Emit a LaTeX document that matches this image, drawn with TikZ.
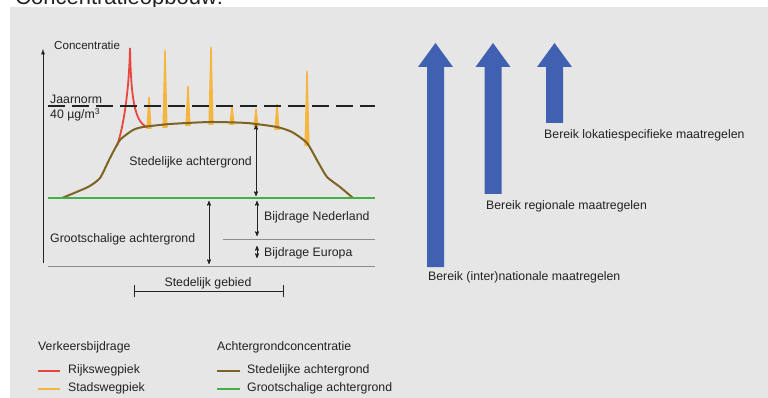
\documentclass[tikz,border=0pt]{standalone}
\usepackage{fontspec}
\setmainfont{Liberation Sans}
\usetikzlibrary{arrows}

\definecolor{panel}{HTML}{E6E6E6}
\definecolor{rijks}{HTML}{E8463C}
\definecolor{stads}{HTML}{F4B63F}
\definecolor{stedbrown}{HTML}{7D6324}
\definecolor{grootgreen}{HTML}{45B04A}
\definecolor{bereikblue}{HTML}{4061B2}
\definecolor{txt}{HTML}{222222}

\begin{document}
\begin{tikzpicture}[x=1pt, y=-1pt, >=latex, font=\fontsize{12.3}{14}\selectfont,
  lbl/.style={text=txt, inner sep=0pt},
  dimarrow/.style={<->, >=stealth', txt, line width=0.7pt},
  thinline/.style={black!45, line width=0.9pt},
  legline/.style={line width=2pt}]

\useasboundingbox (0,0) rectangle (768,398);
\clip (0,0) rectangle (768,398);

\node[lbl, anchor=base west, font=\fontsize{22}{24}\selectfont] (titel) at (15,4.5) {Concentratieopbouw:};
\fill[panel] (10,7) rectangle (768,398);

% axis
\coordinate (axb) at (43,263);
\coordinate (axt) at (43,49);
\draw[txt, line width=0.9pt, -latex] (axb) -- (axt);
\node[lbl, anchor=west, font=\fontsize{11.6}{13}\selectfont] (conc) at (54,45) {Concentratie};

% stadswegpieken
\foreach \sx/\sy/\sb in {149/97/129, 165/50/128, 188/86/126, 211/47/125, 232/105/125, 256/109/127, 277/104/130, 307/71/146}
  \fill[stads] (\sx-2.6,\sb) -- (\sx-0.7,\sy) -- (\sx+0.7,\sy) -- (\sx+2.6,\sb) -- cycle;

% rijkswegpiek
\draw[rijks, line width=1.8pt] (117,146) .. controls (124,125) and (129,90) .. (130,48)
  .. controls (131,95) and (134,122) .. (147,127);

% stedelijke achtergrond
\draw[stedbrown, line width=2pt, line join=round] plot[smooth, tension=0.35] coordinates {(62,198) (88,187) (100,178) (110,158) (120,140) (133,130) (143,127) (170,124) (210,122) (247,123) (277,127) (292,132) (307,143) (318,162) (327,177) (340,187) (353,198)};

% jaarnorm
\coordinate (norml) at (48,106);
\coordinate (normr) at (375,106);
\draw[txt, line width=1.2pt, dash pattern=on 17pt off 7pt] (norml) -- (normr);
\node[lbl, anchor=west] (jaar) at (50,99) {Jaarnorm};
\node[lbl, anchor=west] (norm) at (50,115) {40 µg/m\textsuperscript{3}};

% grootschalige achtergrond
\coordinate (groenl) at (48,198);
\coordinate (groenr) at (375,198);
\draw[grootgreen, line width=2pt] (groenl) -- (groenr);
\coordinate (bodeml) at (48,266);
\coordinate (bodemr) at (375,266);
\draw[thinline] (bodeml) -- (bodemr);
\coordinate (euml) at (223,239);
\coordinate (eumr) at (375,239);
\draw[thinline] (euml) -- (eumr);

\coordinate (sta) at (256,125);
\coordinate (stb) at (256,196);
\draw[dimarrow] (sta) -- (stb);
\node[lbl, anchor=east] (sted) at (252,162) {Stedelijke achtergrond};

\coordinate (gra) at (209,201);
\coordinate (grb) at (209,264);
\draw[dimarrow] (gra) -- (grb);
\node[lbl, anchor=west] (groot) at (50,239) {Grootschalige achtergrond};

\coordinate (nla) at (257,201);
\coordinate (nlb) at (257,236);
\draw[dimarrow] (nla) -- (nlb);
\node[lbl, anchor=west] (nl) at (264,217) {Bijdrage Nederland};

\coordinate (eua) at (257,246);
\coordinate (eub) at (257,258);
\draw[dimarrow] (eua) -- (eub);
\node[lbl, anchor=west] (eu) at (264,253) {Bijdrage Europa};

% stedelijk gebied
\coordinate (gbl) at (134,291);
\coordinate (gbr) at (283,291);
\draw[txt, line width=0.8pt] (gbl) -- (gbr);
\draw[txt, line width=0.8pt] ([yshift=-6]gbl) -- ([yshift=6]gbl);
\draw[txt, line width=0.8pt] ([yshift=-6]gbr) -- ([yshift=6]gbr);
\node[lbl, anchor=south] (gebied) at (208,289) {Stedelijk gebied};

% bereik maatregelen
\foreach \bx/\bb in {435.5/267, 493/194, 554.5/123}
  \fill[bereikblue] (\bx-8.5,\bb) -- (\bx-8.5,67) -- (\bx-17.5,67) -- (\bx,43) -- (\bx+17.5,67) -- (\bx+8.5,67) -- (\bx+8.5,\bb) -- cycle;
\node[lbl, anchor=west] (lokaal) at (544,135) {Bereik lokatiespecifieke maatregelen};
\node[lbl, anchor=west] (regio) at (486,206) {Bereik regionale maatregelen};
\node[lbl, anchor=west] (inter) at (428,277) {Bereik (inter)nationale maatregelen};

% legenda
\node[lbl, anchor=west] (verkeer) at (38,347) {Verkeersbijdrage};
\coordinate (rl) at (38,371);
\coordinate (rr) at (60,371);
\draw[rijks, legline] (rl) -- (rr);
\node[lbl, anchor=west] (rijkstxt) at (68,370) {Rijkswegpiek};
\coordinate (sl) at (38,389);
\coordinate (sr) at (60,389);
\draw[stads, legline] (sl) -- (sr);
\node[lbl, anchor=west] (stadstxt) at (68,388) {Stadswegpiek};

\node[lbl, anchor=west] (achter) at (217,347) {Achtergrondconcentratie};
\coordinate (bl) at (217,371);
\coordinate (br) at (240,371);
\draw[stedbrown, legline] (bl) -- (br);
\node[lbl, anchor=west] (stedtxt) at (247,370) {Stedelijke achtergrond};
\coordinate (gl) at (217,389);
\coordinate (gr) at (240,389);
\draw[grootgreen, legline] (gl) -- (gr);
\node[lbl, anchor=west] (groottxt) at (247,388) {Grootschalige achtergrond};

\end{tikzpicture}
\end{document}
